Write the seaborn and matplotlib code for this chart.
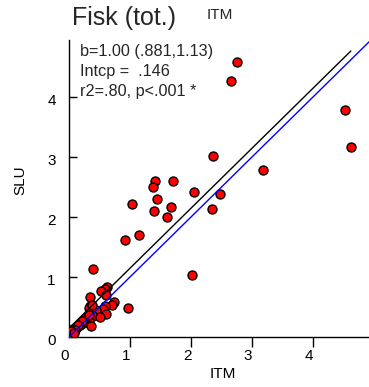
import matplotlib
matplotlib.use("Agg")
import matplotlib.pyplot as plt
import matplotlib.transforms as mtransforms
import numpy as np
import pandas as pd
import seaborn as sns

# ---- data ----
itm = [2.75, 2.66, 4.52, 4.62, 2.36, 3.18, 1.41, 1.70, 1.37, 2.05,
       2.48, 1.45, 1.03, 1.68, 2.34, 1.39, 1.60, 1.15, 0.91, 0.40,
       2.02, 0.62, 0.59, 0.52, 0.60, 0.35, 0.73, 0.70, 0.59, 0.34,
       0.97, 0.55, 0.33, 0.45, 0.60, 0.40, 0.51, 0.29, 0.33, 0.23,
       0.36, 0.18, 0.13, 0.07, 0.04, 0.02, 0.05, 0.26, 0.21, 0.15,
       0.32, 0.38, 0.10, 0.03, 0.08]
slu = [4.58, 4.27, 3.78, 3.17, 3.02, 2.78, 2.60, 2.60, 2.50, 2.41,
       2.38, 2.30, 2.21, 2.16, 2.14, 2.10, 2.00, 1.70, 1.61, 1.14,
       1.03, 0.83, 0.80, 0.77, 0.70, 0.67, 0.59, 0.53, 0.52, 0.51,
       0.49, 0.46, 0.48, 0.45, 0.39, 0.35, 0.34, 0.29, 0.28, 0.23,
       0.18, 0.20, 0.17, 0.13, 0.08, 0.05, 0.03, 0.31, 0.26, 0.20,
       0.37, 0.53, 0.11, 0.10, 0.06]
slope = 1.00
intercept = 0.146
title_text = "Fisk (tot.)"
stats_lines = ["b=1.00 (.881,1.13)", "Intcp =  .146", "r2=.80, p<.001 *"]
x_label = "ITM"
y_label = "SLU"
x_ticks = [0, 1, 2, 3, 4]
y_ticks = [0, 1, 2, 3, 4]

# ---- style ----
sns.set_style("white")
plt.rcParams["font.family"] = ["Liberation Sans", "DejaVu Sans"]

W, H = 369, 387
fig = plt.figure(figsize=(W / 100, H / 100), dpi=100)
ax = fig.add_axes([69 / W, 50 / H, 307 / W, 297.5 / H])

df = pd.DataFrame({"ITM": itm, "SLU": slu})
sns.scatterplot(data=df, x="ITM", y="SLU", ax=ax, s=42, color="#ff0000",
                edgecolor="black", linewidth=1.0, zorder=3, legend=False)

xs = np.array([min(itm), max(itm)])
ax.plot(xs, intercept + slope * xs, color="black", lw=1.0, zorder=4)
ax.axline((0, 0), slope=1, color="#0000ff", lw=1.0, zorder=4)

ax.set_xlim(0, 307 / 61)
ax.set_ylim(0, 297.5 / 60)
ax.set_xticks(x_ticks)
ax.set_yticks(y_ticks)
ax.set_xticklabels([str(t) for t in x_ticks])
ax.set_yticklabels([str(t) for t in y_ticks])

for s in ["top", "right"]:
    ax.spines[s].set_visible(False)
for s in ["left", "bottom"]:
    ax.spines[s].set_color("black")
    ax.spines[s].set_linewidth(1.0)

ax.tick_params(axis="x", direction="out", length=7.2, width=1.0, pad=1.5,
               labelsize=11, colors="black", bottom=True)
ax.tick_params(axis="y", direction="in", length=5.8, width=1.0, pad=9.6,
               labelsize=11, colors="black", left=True)
ax.xaxis.get_major_ticks()[0].tick1line.set_visible(False)

offx = mtransforms.ScaledTranslation(-4 / 100, 0, fig.dpi_scale_trans)
for lab in ax.get_xticklabels():
    lab.set_transform(lab.get_transform() + offx)
offy = mtransforms.ScaledTranslation(0, -2.5 / 100, fig.dpi_scale_trans)
for lab in ax.get_yticklabels():
    lab.set_transform(lab.get_transform() + offy)

ax.set_xlabel(x_label, fontsize=11, color="black")
ax.xaxis.label.set_va("baseline")
ax.xaxis.set_label_coords(0.5, (337 - 377.7) / 297.5)
ax.set_ylabel(y_label, fontsize=11, color="black")
ax.yaxis.label.set_va("baseline")
ax.yaxis.set_label_coords((24 - 69) / 307, (337 - 180.5) / 297.5)

fig.text(72 / W, 1 - 25 / H, title_text, fontsize=18, ha="left", va="baseline")
fig.text(206.6 / W, 1 - 19 / H, x_label, fontsize=11, ha="left", va="baseline")
for i, line in enumerate(stats_lines):
    fig.text(80.5 / W, 1 - (56 + 20 * i) / H, line, fontsize=11.7,
             ha="left", va="baseline")

fig.savefig("out.png", dpi=100)
